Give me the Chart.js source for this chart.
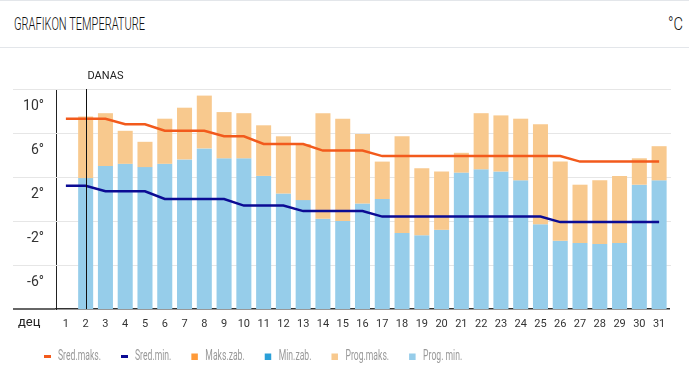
<!DOCTYPE html>
<html>
<head>
<meta charset="utf-8">
<script src="https://cdn.jsdelivr.net/npm/chart.js"></script>
<style>
  body { margin: 0; background: #fff; }
  .wrap { width: 689px; height: 387px; position: relative; overflow: hidden; }
  .head {
    height: 46px; border-top: 1px solid #e3e6ea; border-bottom: 1px solid #e3e6ea;
    font-family: Roboto, sans-serif; font-weight: 300; font-size: 19px; color: #111; position: relative;
  }
  .head span { position: absolute; top: 11px; white-space: nowrap; transform-origin: left top; }
  .head .t { left: 14px; }
  .head .u { left: 668px; }
  .box { position: absolute; left: 0; top: 48px; width: 689px; height: 339px; }
</style>
</head>
<body>
<div class="wrap">
  <div class="head"><span class="t" id="title">GRAFIKON TEMPERATURE</span><span class="u" id="unit">°C</span></div>
  <div class="box"><canvas id="tempChart" width="689" height="339"></canvas></div>
</div>
<script>
const FONT = 'Roboto, sans-serif';

const days = ['1','2','3','4','5','6','7','8','9','10','11','12','13','14','15','16',
  '17','18','19','20','21','22','23','24','25','26','27','28','29','30','31'];

const sredMaks = [7.3,7.3,7.3,6.8,6.8,6.2,6.2,6.2,5.7,5.7,5.0,5.0,5.0,4.4,4.4,4.4,
  3.9,3.9,3.9,3.9,3.9,3.9,3.9,3.9,3.9,3.9,3.4,3.4,3.4,3.4,3.4];
const sredMin = [1.2,1.2,0.7,0.7,0.7,0.0,0.0,0.0,0.0,-0.6,-0.6,-0.6,-1.1,-1.1,-1.1,-1.1,
  -1.6,-1.6,-1.6,-1.6,-1.6,-1.6,-1.6,-1.6,-1.6,-2.1,-2.1,-2.1,-2.1,-2.1,-2.1];

const progMaks = [null,7.5,7.8,6.2,5.2,7.3,8.3,9.4,7.9,7.8,6.7,5.7,5.0,7.8,7.3,5.9,
  3.4,5.7,2.8,2.5,4.2,7.8,7.6,7.3,6.8,3.4,1.3,1.7,2.1,3.7,4.8];
const progMin = [null,1.9,3.0,3.2,2.9,3.2,3.6,4.6,3.7,3.7,2.1,0.5,-0.1,-1.8,-2.0,-0.4,
  0.0,-3.1,-3.3,-2.8,2.4,2.7,2.5,1.7,-2.3,-3.8,-4.0,-4.1,-4.0,1.3,1.7];

const yTicks = [-10, -6, -2, 2, 6, 10];
const todayIndex = 1;

const yMin = yTicks[0];
const yMax = yTicks[yTicks.length - 1];

const minBars = progMin.map(v => v == null ? null : [yMin, v]);
const maxBars = progMin.map((v, i) => v == null ? null : [v, progMaks[i]]);

// squeeze the header text, the reference uses a condensed face
(function () {
  const t = document.getElementById('title');
  t.style.transform = 'scaleX(' + (131 / t.getBoundingClientRect().width) + ')';
  const u = document.getElementById('unit');
  u.style.transform = 'scaleX(' + (15 / u.getBoundingClientRect().width) + ')';
})();

function narrowText(ctx, text, x, y, f) {
  ctx.save();
  ctx.translate(x, y);
  ctx.scale(f, 1);
  ctx.fillText(text, 0, 0);
  ctx.restore();
}

const extras = {
  id: 'extras',
  beforeDatasetsDraw(chart) {
    const { ctx, scales: { y } } = chart;
    ctx.save();
    ctx.strokeStyle = '#e6e6e6';
    ctx.lineWidth = 1;
    yTicks.slice(1).forEach(t => {
      const py = Math.round(y.getPixelForValue(t)) + 0.5;
      ctx.beginPath();
      ctx.moveTo(13, py);
      ctx.lineTo(671, py);
      ctx.stroke();
    });
    ctx.restore();
  },
  afterDraw(chart) {
    const { ctx, scales: { x }, chartArea } = chart;
    ctx.save();
    // danas
    const tx = Math.round(x.getPixelForValue(todayIndex)) + 0.5;
    ctx.strokeStyle = '#111';
    ctx.lineWidth = 1;
    ctx.beginPath();
    ctx.moveTo(tx, chartArea.top);
    ctx.lineTo(tx, chartArea.bottom);
    ctx.stroke();
    ctx.fillStyle = '#222';
    ctx.font = '11px ' + FONT;
    ctx.textBaseline = 'middle';
    ctx.fillText('DANAS', tx + 1, chartArea.top - 13);
    // bottom line to the left
    ctx.strokeStyle = '#333';
    ctx.lineWidth = 1.5;
    ctx.beginPath();
    ctx.moveTo(13, chartArea.bottom);
    ctx.lineTo(chartArea.left - 1, chartArea.bottom);
    ctx.stroke();
    ctx.font = '13px ' + FONT;
    ctx.fillText('дец', 18, chartArea.bottom + 14);

    // legend
    ctx.font = '15px ' + FONT;
    const f = 43 / ctx.measureText('Sred.maks.').width;
    let lx = chartArea.left - 12;
    const ly = chartArea.bottom + 47.5;
    chart.data.datasets.forEach(ds => {
      if (ds.type === 'line') {
        ctx.fillStyle = ds.borderColor;
        ctx.fillRect(lx, ly - 1.5, 7, 3);
      } else {
        ctx.fillStyle = ds.backgroundColor;
        ctx.fillRect(lx, ly - 3, 6.5, 6.5);
      }
      ctx.fillStyle = '#999';
      narrowText(ctx, ds.label, lx + 14, ly, f);
      lx += 14 + ctx.measureText(ds.label).width * f + 20;
    });
    ctx.restore();
  }
};

new Chart(document.getElementById('tempChart').getContext('2d'), {
  data: {
    labels: days,
    datasets: [
      { type: 'line', label: 'Sred.maks.', data: sredMaks, borderColor: '#f25a1c', backgroundColor: '#f25a1c',
        borderWidth: 2.5, pointRadius: 0, order: 0 },
      { type: 'line', label: 'Sred.min.', data: sredMin, borderColor: '#0b0b94', backgroundColor: '#0b0b94',
        borderWidth: 2.5, pointRadius: 0, order: 0 },
      { type: 'bar', label: 'Maks.zab.', data: [], backgroundColor: '#ff9a38', order: 1 },
      { type: 'bar', label: 'Min.zab.', data: [], backgroundColor: '#2a9fd8', order: 1 },
      { type: 'bar', label: 'Prog.maks.', data: maxBars, backgroundColor: '#f8c98e', order: 1 },
      { type: 'bar', label: 'Prog. min.', data: minBars, backgroundColor: '#96cdea', order: 1 }
    ]
  },
  options: {
    responsive: false,
    animation: false,
    layout: { padding: { top: 41, right: 20, bottom: 56, left: 0 } },
    datasets: { bar: { barPercentage: 0.76, categoryPercentage: 1 } },
    plugins: {
      tooltip: { enabled: false },
      legend: { display: false }
    },
    scales: {
      x: {
        stacked: true,
        grid: { display: false, drawTicks: false },
        border: { color: '#333', width: 1.5 },
        ticks: { color: '#333', font: { family: FONT, size: 11 }, padding: 9, maxRotation: 0, autoSkip: false },
        afterFit(s) { s.height = 22; }
      },
      y: {
        min: yMin, max: yMax,
        afterBuildTicks(s) { s.ticks = yTicks.map(v => ({ value: v })); },
        grid: { display: false, drawTicks: false },
        border: { color: '#222', width: 1 },
        ticks: {
          color: '#333', font: { family: FONT, size: 14 }, padding: 12, labelOffset: 17,
          callback: v => v === yMin ? '' : v + '°'
        },
        afterFit(s) { s.width = 56; }
      }
    }
  },
  plugins: [extras]
});
</script>
</body>
</html>
